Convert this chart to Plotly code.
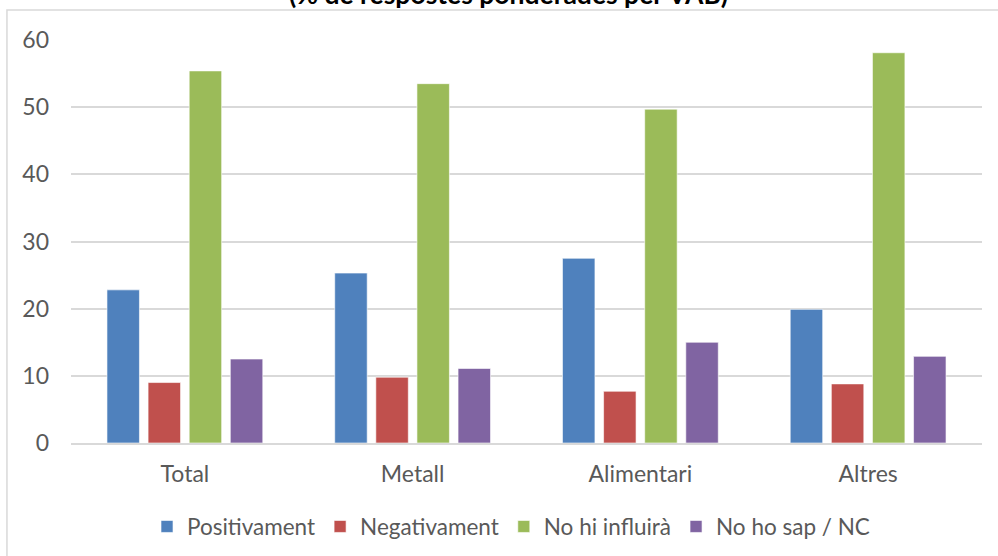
import plotly.graph_objects as go

categories = ["Total", "Metall", "Alimentari", "Altres"]
positivament = [22.8, 25.3, 27.5, 19.9]
negativament = [9.0, 9.8, 7.7, 8.8]
no_hi_influira = [55.4, 53.5, 49.7, 58.1]
no_ho_sap = [12.5, 11.1, 15.0, 12.9]

series_names = ["Positivament", "Negativament", "No hi influirà", "No ho sap / NC"]
series_values = [positivament, negativament, no_hi_influira, no_ho_sap]
colors = ["#4F81BD", "#C0504D", "#9BBB59", "#8064A2"]

title_text = "(% de respostes ponderades per VAB)"
y_ticks = [0, 10, 20, 30, 40, 50, 60]

FONT = "Lato"
TXT = "#595959"

fig = go.Figure()
for name, vals, col in zip(series_names, series_values, colors):
    fig.add_trace(go.Bar(
        x=categories, y=vals, name=name,
        marker=dict(color=col, line=dict(color="rgba(255,255,255,0.6)", width=1)),
    ))

fig.update_layout(
    width=998, height=556,
    margin=dict(l=71, r=16, t=40, b=113, autoexpand=False),
    paper_bgcolor="white", plot_bgcolor="white",
    barmode="group", bargap=0.278, bargroupgap=0.21,
    font=dict(family=FONT, color=TXT, size=22),
    showlegend=True,
    legend=dict(orientation="h", x=0.483, xanchor="center", y=-0.208, yanchor="middle",
                font=dict(family=FONT, size=22.5, color=TXT), itemwidth=30,
                traceorder="normal", bgcolor="rgba(0,0,0,0)"),
    xaxis=dict(showgrid=False, showline=True, linecolor="#D9D9D9", linewidth=1.5,
               ticks="", ticklabelstandoff=10, automargin=False,
               tickfont=dict(size=23, color=TXT)),
    yaxis=dict(range=[0, 60], tickvals=y_ticks, showgrid=True, gridcolor="#D9D9D9",
               gridwidth=1.5, zeroline=False, showline=False, ticks="", automargin=False,
               ticklabelstandoff=21, tickfont=dict(size=23, color=TXT)),
    shapes=[dict(type="rect", xref="paper", yref="paper", x0=-0.0703, x1=1.1,
                 y0=-0.4, y1=1.0744, line=dict(color="#D9D9D9", width=1.5),
                 fillcolor="rgba(0,0,0,0)", layer="above")],
    annotations=[dict(text="<b>" + title_text + "</b>", xref="paper", yref="paper",
                      x=0.4797, y=1.115, xanchor="center", yanchor="middle",
                      showarrow=False, font=dict(family=FONT, size=26.5, color="black"))],
)

fig.write_html("out.html",
               config={"displayModeBar": False},
               post_script="document.body.style.margin='0';document.body.style.overflow='hidden';")
